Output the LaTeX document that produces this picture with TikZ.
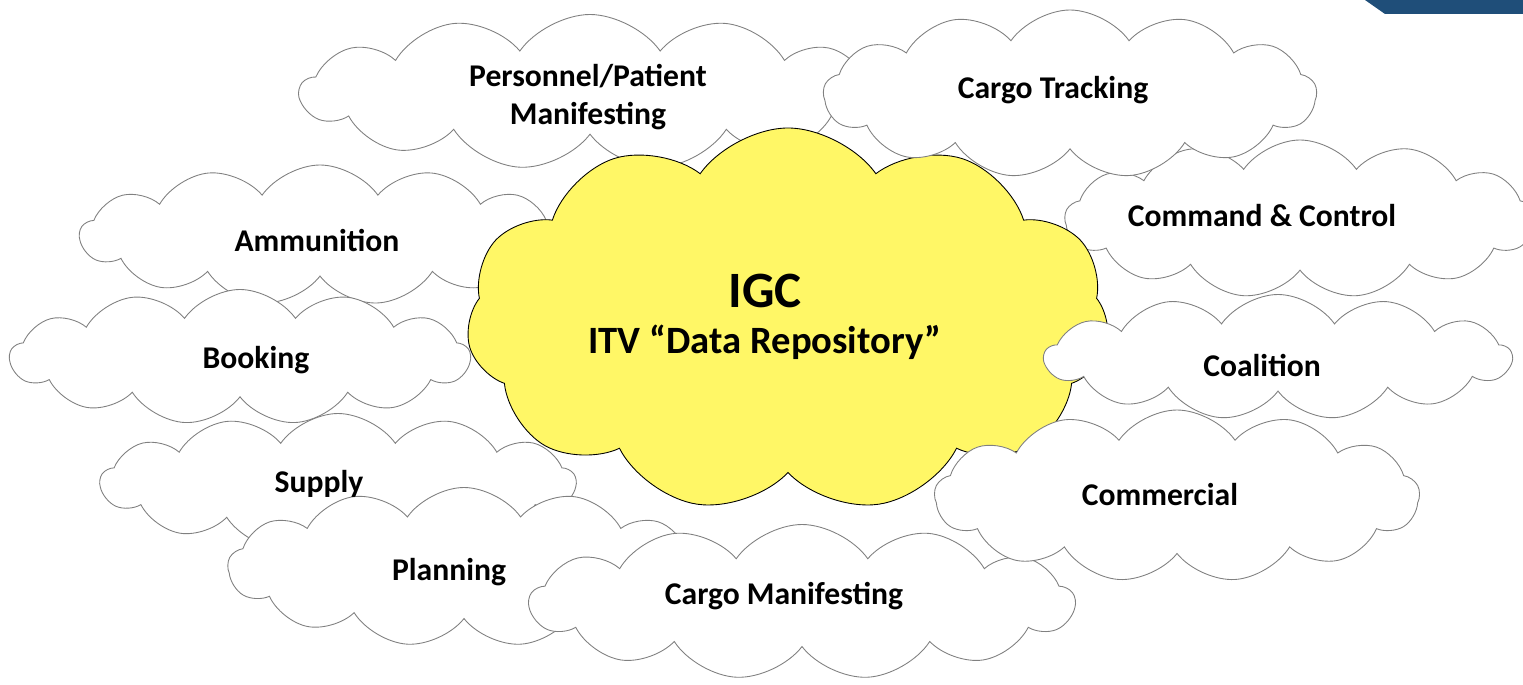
\documentclass[tikz,border=0pt]{standalone}
\usepackage{fontspec}
\setmainfont{Carlito}
\usetikzlibrary{shapes.symbols}
\definecolor{barblue}{RGB}{31,78,121}

\begin{document}
\begin{tikzpicture}[
    cloudbox/.style={cloud, cloud puffs=13, cloud puff arc=110, cloud ignores aspect,
        draw=black!50, line width=0.5pt, fill=white, inner sep=0pt},
    igcbox/.style={cloudbox, cloud puffs=11, draw=black, fill=yellow!60},
    lbl/.style={font=\bfseries\fontsize{18}{22}\selectfont, align=center, inner sep=0pt}]
            \useasboundingbox (0,0) rectangle (30.46,13.68);
            \fill[barblue] (27.3,13.68) -- (30.46,13.68) -- (30.46,13.4) -- (27.7,13.4) -- cycle;
            \node[cloudbox, minimum width=11.6cm, minimum height=3.1cm] (personnel) at (11.8,11.84) {};
            \node[cloudbox, minimum width=9.6cm, minimum height=2.8cm] (ammo) at (6.4,8.98) {};
            \node[cloudbox, minimum width=9.2cm, minimum height=2.7cm] (booking) at (4.8,6.54) {};
            \node[cloudbox, minimum width=9.5cm, minimum height=2.74cm] (supply) at (6.76,4.04) {};
            \node[cloudbox, minimum width=9.4cm, minimum height=3.16cm] (cmdctrl) at (26.0,9.3) {};
            \node[igcbox, minimum width=12.86cm, minimum height=7.68cm] (igc) at (15.76,7.28) {};
            \node[cloudbox, minimum width=9.86cm, minimum height=3.36cm] (cargotrack) at (21.4,11.8) {};
            \node[cloudbox, minimum width=9.34cm, minimum height=2.5cm] (coalition) at (25.56,6.54) {};
            \node[cloudbox, minimum width=9.44cm, minimum height=3.18cm] (planning) at (9.28,2.34) {};
            \node[cloudbox, minimum width=10.9cm, minimum height=3.1cm] (cargoman) at (16.04,1.64) {};
            \node[cloudbox, minimum width=9.7cm, minimum height=3.44cm] (commercial) at (23.54,3.76) {};
            \node[lbl] (personnel-t) at (11.76,11.74) {Personnel/Patient\\Manifesting};
            \node[lbl] (ammo-t) at (6.34,8.88) {Ammunition};
            \node[lbl] (booking-t) at (5.12,6.48) {Booking};
            \node[lbl] (supply-t) at (6.38,4.0) {Supply};
            \node[lbl] (cmdctrl-t) at (25.24,9.36) {Command \& Control};
            \node[lbl] (igc-t) at (15.3,7.34) {{\fontsize{29}{30}\selectfont IGC}\\[4pt]{\fontsize{22}{26}\selectfont ITV “Data Repository”}};
            \node[lbl] (cargotrack-t) at (21.06,11.88) {Cargo Tracking};
            \node[lbl] (coalition-t) at (25.24,6.38) {Coalition};
            \node[lbl] (planning-t) at (8.98,2.24) {Planning};
            \node[lbl] (cargoman-t) at (15.68,1.76) {Cargo Manifesting};
            \node[lbl] (commercial-t) at (23.2,3.78) {Commercial};
        \end{tikzpicture}
\end{document}
